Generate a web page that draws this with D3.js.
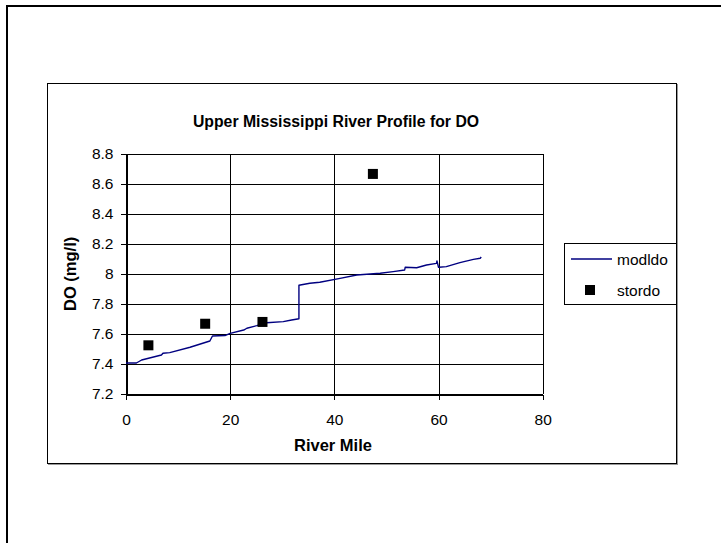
<!DOCTYPE html>
<html>
<head>
<meta charset="utf-8">
<script src="https://cdn.jsdelivr.net/npm/d3@7"></script>
<style>
  html, body { margin: 0; padding: 0; background: #fff; }
  svg { display: block; font-family: "Liberation Sans", Arial, sans-serif; }
</style>
</head>
<body>
<svg id="chart" width="721" height="543"></svg>
<script>
// ---- data ----
const title = "Upper Mississippi River Profile for DO";
const xLabel = "River Mile";
const yLabel = "DO (mg/l)";
const xTicks = [0, 20, 40, 60, 80];
const xTickLabels = ["0", "20", "40", "60", "80"];
const yTicks = [7.2, 7.4, 7.6, 7.8, 8.0, 8.2, 8.4, 8.6, 8.8];
const yTickLabels = ["7.2", "7.4", "7.6", "7.8", "8", "8.2", "8.4", "8.6", "8.8"];

// modeled DO (line)
const modMile = [0, 2.0, 3.0, 6.8, 7.1, 8.4, 12.3, 16.1, 16.6, 19.0, 20.0, 22.6, 23.2, 25.1, 27.0, 30.2, 31.8, 33.2, 33.2, 35.3, 37.2, 41.1, 44.3, 48.8, 51.3, 53.5, 53.6, 55.8, 57.7, 59.6, 59.7, 60.0, 60.1, 61.5, 64.1, 66.7, 68.0, 68.2];
const modDO   = [7.405, 7.405, 7.425, 7.458, 7.470, 7.474, 7.510, 7.552, 7.585, 7.588, 7.603, 7.625, 7.637, 7.654, 7.674, 7.681, 7.692, 7.700, 7.924, 7.937, 7.944, 7.970, 7.992, 8.004, 8.015, 8.026, 8.044, 8.041, 8.059, 8.070, 8.086, 8.044, 8.044, 8.048, 8.075, 8.097, 8.104, 8.112];

// stored / observed DO (markers)
const storMile = [4.3, 15.2, 26.2, 47.4];
const storDO   = [7.523, 7.667, 7.679, 8.667];

const seriesNames = ["modldo", "stordo"];

// ---- drawing ----
const svg = d3.select("#chart");
const FONT = "'Liberation Sans', Arial, sans-serif";

// outer frame (extends beyond viewport)
svg.append("rect").attr("x", 7).attr("y", 6).attr("width", 760).attr("height", 600)
  .attr("fill", "none").attr("stroke", "#000").attr("stroke-width", 2);

// chart area frame
svg.append("rect").attr("x", 48.5).attr("y", 84.5).attr("width", 629).attr("height", 380)
  .attr("fill", "none").attr("stroke", "#999").attr("stroke-width", 1);
svg.append("rect").attr("x", 47.5).attr("y", 83.5).attr("width", 629).attr("height", 380)
  .attr("fill", "#fff").attr("stroke", "#000").attr("stroke-width", 1);

const x = d3.scaleLinear().domain([0, 80]).range([126, 542.7]);
const y = d3.scaleLinear().domain([7.2, 8.8]).range([393.7, 154]);

// gridlines
const grid = svg.append("g").attr("shape-rendering", "crispEdges");
grid.selectAll("line.h").data(yTicks).join("line")
  .attr("x1", x(0)).attr("x2", x(80))
  .attr("y1", d => Math.round(y(d)) + 0.5).attr("y2", d => Math.round(y(d)) + 0.5)
  .attr("stroke", "#000").attr("stroke-width", 1);
grid.selectAll("line.v").data(xTicks).join("line")
  .attr("y1", y(8.8)).attr("y2", y(7.2))
  .attr("x1", d => Math.round(x(d)) + 0.5).attr("x2", d => Math.round(x(d)) + 0.5)
  .attr("stroke", "#000").attr("stroke-width", 1);

// axes
const yAxis = d3.axisLeft(y).tickValues(yTicks).tickSize(6).tickPadding(7)
  .tickFormat((d, i) => yTickLabels[i]);
const gy = svg.append("g").attr("transform", `translate(${Math.round(x(0)) + 0.5},0)`).call(yAxis);
const xAxis = d3.axisBottom(x).tickValues(xTicks).tickSize(5).tickPadding(14)
  .tickFormat((d, i) => xTickLabels[i]);
const gx = svg.append("g").attr("transform", `translate(0,${Math.round(y(7.2)) + 0.5})`).call(xAxis);
[gx, gy].forEach(g => {
  g.attr("font-family", FONT).attr("font-size", 15.5);
  g.select(".domain").attr("stroke", "#000").attr("shape-rendering", "crispEdges");
  g.selectAll(".tick line").attr("stroke", "#000").attr("shape-rendering", "crispEdges");
  g.selectAll("text").attr("fill", "#000");
});

// line series
const line = d3.line().x(d => x(d[0])).y(d => y(d[1]));
svg.append("path").datum(modMile.map((m, i) => [m, modDO[i]]))
  .attr("d", line).attr("fill", "none").attr("stroke", "#000080").attr("stroke-width", 1.4)
  .attr("stroke-linejoin", "round");

// markers
const ms = 10;
svg.selectAll("rect.pt").data(storMile.map((m, i) => [m, storDO[i]])).join("rect")
  .attr("class", "pt")
  .attr("x", d => x(d[0]) - ms / 2).attr("y", d => y(d[1]) - ms / 2)
  .attr("width", ms).attr("height", ms).attr("fill", "#000");

// title
svg.append("text").attr("x", 336).attr("y", 127).attr("text-anchor", "middle")
  .attr("font-weight", "bold").attr("font-size", 15.8).text(title);

// axis titles
svg.append("text").attr("x", 333).attr("y", 451).attr("text-anchor", "middle")
  .attr("font-weight", "bold").attr("font-size", 16.5).text(xLabel);
svg.append("text").attr("transform", `translate(76,${(y(7.2) + y(8.8)) / 2}) rotate(-90)`)
  .attr("text-anchor", "middle").attr("font-weight", "bold").attr("font-size", 16.5).text(yLabel);

// legend
const lg = svg.append("g").attr("font-size", 15.5);
lg.append("rect").attr("x", 564.5).attr("y", 243.5).attr("width", 112).attr("height", 61)
  .attr("fill", "#fff").attr("stroke", "#000").attr("stroke-width", 1);
lg.append("line").attr("x1", 571).attr("x2", 612).attr("y1", 259).attr("y2", 259)
  .attr("stroke", "#000080").attr("stroke-width", 1.4);
lg.append("text").attr("x", 617).attr("y", 264.5).text(seriesNames[0]);
lg.append("rect").attr("x", 585).attr("y", 285).attr("width", 10).attr("height", 10).attr("fill", "#000");
lg.append("text").attr("x", 617).attr("y", 295.5).text(seriesNames[1]);
</script>
</body>
</html>
